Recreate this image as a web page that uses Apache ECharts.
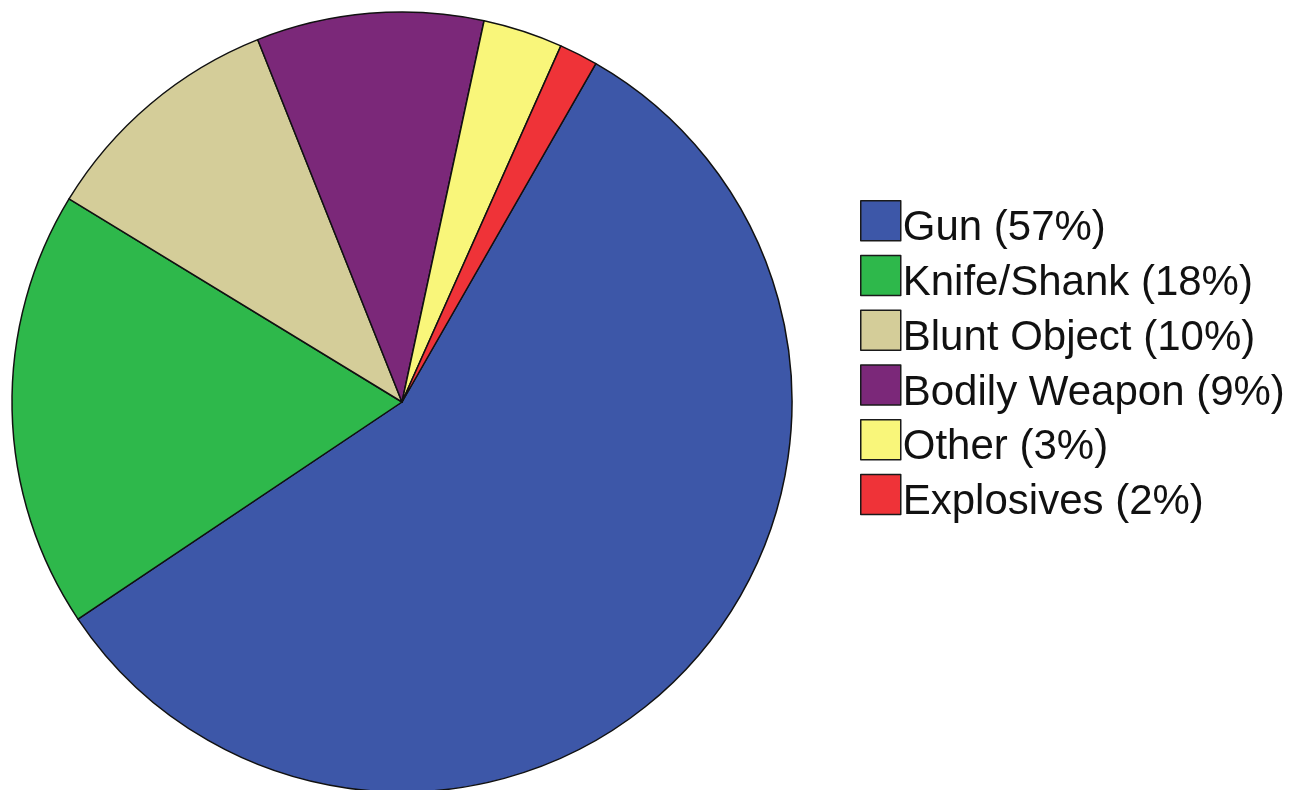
<!DOCTYPE html>
<html>
<head>
<meta charset="utf-8">
<script src="https://cdn.jsdelivr.net/npm/echarts@6/dist/echarts.min.js"></script>
<style>
  html, body { margin: 0; padding: 0; background: #fff; }
  #chart { width: 1296px; height: 790px; }
</style>
</head>
<body>
<div id="chart"></div>
<script>
// weapon categories, in drawing order (clockwise from Gun)
var categories = ["Gun", "Knife/Shank", "Blunt Object", "Bodily Weapon", "Other", "Explosives"];
// share of cases, percent
var values = [57.3, 18.1, 10.25, 9.4, 3.3, 1.6];
// percentages as printed in the legend
var legendPct = [57, 18, 10, 9, 3, 2];
var colors = ["#3d57a8", "#2eb84b", "#d4cd99", "#7b2879", "#f9f67a", "#ef3338"];

var myChart = echarts.init(document.getElementById("chart"));

var pieData = categories.map(function (c, i) {
  return { name: c, value: values[i], itemStyle: { color: colors[i] } };
});

myChart.setOption({
  animation: false,
  legend: {
    orient: "vertical",
    left: 855,
    top: 195,
    itemWidth: 40,
    itemHeight: 40,
    itemGap: 5,
    icon: "rect",
    itemStyle: { borderColor: "#1a1a1a", borderWidth: 1.5 },
    textStyle: {
      padding: [0, 0, 0, -3],
      rich: {
        // spacer line pushes the label a bit below the swatch centre
        s: { fontSize: 2, lineHeight: 16, height: 16 },
        t: {
          fontFamily: "Liberation Sans, Arial, sans-serif",
          fontSize: 42,
          lineHeight: 24,
          color: "#111"
        }
      }
    },
    formatter: function (name) {
      var i = categories.indexOf(name);
      return "{s| }\n{t|" + name + " (" + legendPct[i] + "%)}";
    },
    data: categories
  },
  series: [
    {
      type: "pie",
      center: [402, 402],
      radius: 390,
      startAngle: 60.2,
      clockwise: true,
      label: { show: false },
      labelLine: { show: false },
      emphasis: { disabled: true },
      itemStyle: { borderColor: "#111", borderWidth: 1.5 },
      data: pieData
    }
  ]
});
</script>
</body>
</html>
